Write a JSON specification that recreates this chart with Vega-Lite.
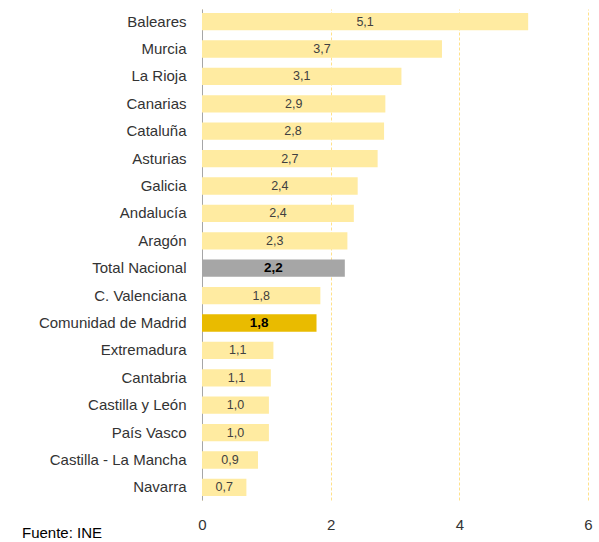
{
  "$schema": "https://vega.github.io/schema/vega-lite/v6.json",
  "autosize": {"type": "none"},
  "width": 386,
  "height": 491,
  "padding": {"left": 202, "top": 9, "right": 11, "bottom": 42},
  "config": {
    "font": "Liberation Sans",
    "view": {"stroke": null},
    "locale": {"number": {"decimal": ",", "thousands": ".", "grouping": [3], "currency": ["", " €"]}}
  },
  "title": {
    "text": "Fuente:  INE",
    "orient": "bottom",
    "anchor": "start",
    "frame": "group",
    "dx": -180,
    "offset": -6,
    "fontSize": 15,
    "fontWeight": "normal",
    "color": "#000000"
  },
  "data": {
    "values": [
      {"region": "Baleares", "valor": 5.07, "tipo": "ccaa"},
      {"region": "Murcia", "valor": 3.73, "tipo": "ccaa"},
      {"region": "La Rioja", "valor": 3.1, "tipo": "ccaa"},
      {"region": "Canarias", "valor": 2.85, "tipo": "ccaa"},
      {"region": "Cataluña", "valor": 2.83, "tipo": "ccaa"},
      {"region": "Asturias", "valor": 2.73, "tipo": "ccaa"},
      {"region": "Galicia", "valor": 2.42, "tipo": "ccaa"},
      {"region": "Andalucía", "valor": 2.36, "tipo": "ccaa"},
      {"region": "Aragón", "valor": 2.26, "tipo": "ccaa"},
      {"region": "Total Nacional", "valor": 2.22, "tipo": "total"},
      {"region": "C. Valenciana", "valor": 1.84, "tipo": "ccaa"},
      {"region": "Comunidad de Madrid", "valor": 1.78, "tipo": "madrid"},
      {"region": "Extremadura", "valor": 1.11, "tipo": "ccaa"},
      {"region": "Cantabria", "valor": 1.07, "tipo": "ccaa"},
      {"region": "Castilla y León", "valor": 1.04, "tipo": "ccaa"},
      {"region": "País Vasco", "valor": 1.04, "tipo": "ccaa"},
      {"region": "Castilla - La Mancha", "valor": 0.87, "tipo": "ccaa"},
      {"region": "Navarra", "valor": 0.69, "tipo": "ccaa"}
    ]
  },
  "encoding": {
    "y": {
      "field": "region",
      "type": "nominal",
      "sort": null,
      "scale": {"paddingInner": 0.37, "paddingOuter": 0.145},
      "axis": {
        "title": null,
        "ticks": false,
        "domainColor": "#A6A6A6",
        "domainWidth": 1,
        "labelFontSize": 15,
        "labelColor": "#333333",
        "labelPadding": 16,
        "labelLimit": 250
      }
    }
  },
  "layer": [
    {
      "mark": {"type": "bar"},
      "encoding": {
        "x": {
          "field": "valor",
          "type": "quantitative",
          "scale": {"domain": [0, 6], "nice": false},
          "axis": {
            "title": null,
            "values": [0, 2, 4, 6],
            "format": "d",
            "domain": false,
            "ticks": false,
            "grid": true,
            "gridColor": "#FFE08A",
            "gridDash": [3, 2],
            "gridWidth": 1,
            "labelFlush": false,
            "labelFontSize": 15,
            "labelColor": "#333333",
            "labelPadding": 17
          }
        },
        "color": {
          "field": "tipo",
          "type": "nominal",
          "scale": {"domain": ["ccaa", "total", "madrid"], "range": ["#FFEBA1", "#A6A6A6", "#E9BB00"]},
          "legend": null
        }
      }
    },
    {
      "transform": [{"filter": "datum.tipo == 'ccaa'"}, {"calculate": "datum.valor / 2", "as": "medio"}],
      "mark": {"type": "text", "fontSize": 12.5, "color": "#404040", "baseline": "middle", "align": "center"},
      "encoding": {
        "x": {"field": "medio", "type": "quantitative"},
        "text": {"field": "valor", "type": "quantitative", "format": ".1f"}
      }
    },
    {
      "transform": [{"filter": "datum.tipo != 'ccaa'"}, {"calculate": "datum.valor / 2", "as": "medio"}],
      "mark": {"type": "text", "fontSize": 13.5, "fontWeight": "bold", "color": "#000000", "baseline": "middle", "align": "center"},
      "encoding": {
        "x": {"field": "medio", "type": "quantitative"},
        "text": {"field": "valor", "type": "quantitative", "format": ".1f"}
      }
    }
  ]
}
